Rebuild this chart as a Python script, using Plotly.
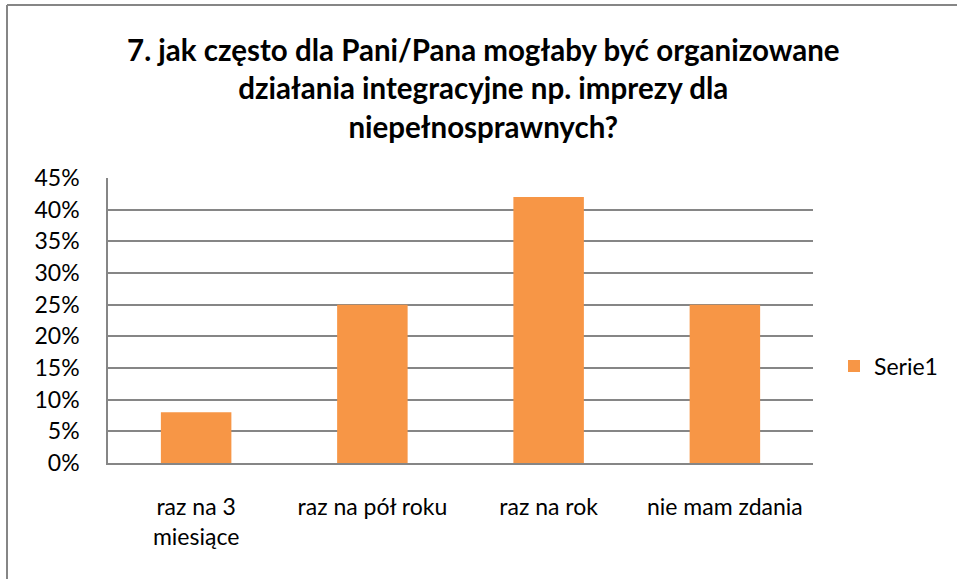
import plotly.graph_objects as go

categories = ["raz na 3<br>miesiące", "raz na pół roku", "raz na rok", "nie mam zdania"]
values = [0.08, 0.25, 0.42, 0.25]
series_name = "Serie1"
title_text = "7. jak często dla Pani/Pana mogłaby być organizowane<br>działania integracyjne np. imprezy dla<br>niepełnosprawnych?"
tick_vals = [0, 0.05, 0.10, 0.15, 0.20, 0.25, 0.30, 0.35, 0.40, 0.45]

FONT = "Lato"
fig = go.Figure()
fig.add_trace(go.Bar(x=categories, y=values, name=series_name, marker_color="#F79646",
                     marker_line_width=0, width=0.4, showlegend=True))

W, H = 957, 579
L, R, T, B = 108, 813, 178, 463
pw, ph = R - L, B - T

fig.update_layout(
    width=W, height=H,
    margin=dict(l=L, r=W - R, t=T, b=H - B),
    paper_bgcolor="white", plot_bgcolor="white",
    font=dict(family=FONT, size=23, color="black"),
    title=dict(text=title_text, x=0.505, xanchor="center", yref="container", y=1 - 61 / H, yanchor="top",
               font=dict(family=FONT, size=29.5, color="black", weight="bold")),
    showlegend=True,
    legend=dict(x=(834 - L) / pw, y=(B - 366) / ph, xanchor="left", yanchor="middle",
                font=dict(family=FONT, size=23), bgcolor="rgba(0,0,0,0)", itemwidth=30),
    bargap=0.6,
)
fig.update_yaxes(range=[0, 0.45], tickvals=tick_vals, tickformat=".0%", showgrid=True,
                 gridcolor="#868686", gridwidth=1.5, showline=True, linecolor="#868686",
                 linewidth=1.5, ticks="", zeroline=False, ticklabelstandoff=22,
                 tickfont=dict(family=FONT, size=23))
fig.update_xaxes(showline=True, linecolor="#868686", linewidth=2, ticks="", mirror=False,
                 ticklabelstandoff=22, tickfont=dict(family=FONT, size=23))

# outer chart border (left and top visible)
x_left = (7 - L) / pw
y_top = (B - 5) / ph
x_right = (W + 5 - L) / pw
fig.add_shape(type="line", xref="paper", yref="paper", x0=x_left, x1=x_left, y0=(B - H - 5) / ph, y1=y_top,
              line=dict(color="#868686", width=2))
fig.add_shape(type="line", xref="paper", yref="paper", x0=x_left, x1=x_right, y0=y_top, y1=y_top,
              line=dict(color="#868686", width=2))

fig.write_html("out.html", config={"displayModeBar": False},
               post_script="document.body.style.margin='0';document.body.style.overflow='hidden';")
